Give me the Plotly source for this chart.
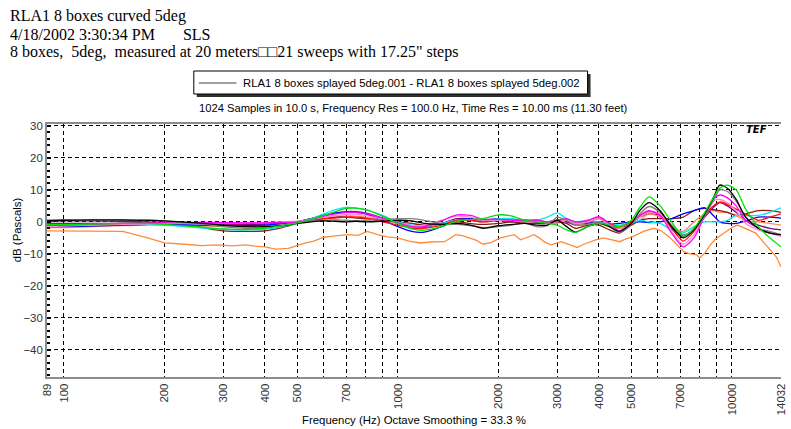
import plotly.graph_objects as go

# ---- measurement data -------------------------------------------------------
freq = [89, 100, 120, 150, 180, 200, 250, 300, 350, 400, 450, 500, 550, 600, 650,
        700, 750, 800, 900, 1000, 1100, 1200, 1350, 1500, 1650, 1800, 2000, 2200,
        2400, 2600, 2800, 3000, 3200, 3400, 3700, 4000, 4300, 4600, 5000, 5300,
        5650, 6100, 6600, 7150, 7700, 8300, 8800, 9200, 9700, 10300, 11000, 12000,
        13000, 14032]

db_purple = [-0.5, -0.5, -0.5, -0.4, -0.3, -0.3, -0.5, -0.7, -0.8, -0.7, -0.5, 0.0, 1.0, 2.0, 2.8,
             3.2, 3.2, 2.8, 1.2, -0.5, -1.5, -1.8, -0.5, 1.0, 1.0, 0.5, 0.5, 0.0,
             0.0, 0.0, -0.5, 0.0, 0.0, -1.0, -0.5, 0.0, -1.0, -2.0, -0.5, 1.5,
             2.5, 2.0, -1.5, -4.5, -2.5, 1.5, 4.5, 6.0, 5.0, 3.0, 0.5, -1.0, -2.0, -2.5]
db_salmon = [-1.8, -1.8, -1.5, -1.2, -1.0, -1.0, -1.2, -1.5, -1.5, -1.2, -0.8, -0.3, 0.5, 1.0, 1.5,
             1.8, 1.8, 1.5, 0.5, -0.5, -1.5, -1.5, -0.5, 0.5, 0.5, 0.0, 0.5, 0.3,
             0.0, 0.0, -0.5, -0.5, 0.5, -0.5, -1.0, -0.5, -1.5, -2.0, -1.0, 0.5,
             2.5, 1.5, -1.5, -3.0, 0.0, 2.5, 3.5, 3.0, 3.0, 2.0, 0.5, 0.0, -0.5, -1.0]
db_brown = [0.2, 0.3, 0.3, 0.2, 0.0, -0.5, -1.5, -2.8, -3.0, -2.8, -1.8, -0.5, 0.5, 1.0, 1.5,
            1.5, 1.2, 1.0, 0.5, 0.0, -0.5, -1.0, -0.5, 0.0, -0.5, -0.8, -0.5, 0.0,
            -0.5, -0.5, -0.5, 0.0, -0.5, -2.0, -1.0, -1.0, -2.5, -3.5, -1.0, 0.5,
            1.0, 1.0, 1.0, 1.5, 3.5, 4.2, 3.8, 3.5, 3.0, 2.0, 2.5, 3.5, 3.5, 3.0]
db_blue = [-1.5, -1.5, -1.3, -1.0, -0.8, -0.8, -1.0, -1.2, -1.2, -1.0, -0.5, 0.0, 1.0, 2.0, 2.8,
           3.0, 3.0, 2.5, 0.5, -1.5, -3.0, -3.2, -1.5, 0.5, 1.0, 0.5, 1.0, 0.5,
           0.5, 0.0, 0.0, 0.5, 0.5, 0.0, 0.0, 0.0, -0.5, -0.5, 0.0, 0.0,
           -0.2, 0.0, 1.0, 2.5, 3.5, 4.4, 2.0, 0.0, -0.5, -0.5, 0.2, 1.5, 1.5, 1.2]
db_cyan = [-1.0, -1.0, -0.8, -0.7, -0.8, -1.0, -1.8, -2.3, -2.5, -2.3, -1.5, -0.5, 1.0, 2.5, 3.8,
           4.5, 4.3, 3.8, 2.0, 0.0, -1.0, -1.5, -0.5, 0.5, 0.5, 0.0, 1.0, 1.0,
           0.5, 0.5, 1.5, 2.8, 1.0, 0.0, 0.5, 0.0, -0.5, -1.0, -0.5, 0.5,
           0.0, -0.5, -2.5, -3.4, -1.5, 0.0, 0.0, 0.0, 0.5, 2.0, 2.0, 2.0, 3.0, 4.4]
db_red = [-1.0, -1.0, -0.8, -0.6, -0.5, -0.3, -0.5, -0.5, -0.5, -0.3, -0.2, 0.0, 0.5, 1.0, 1.2,
          1.5, 1.5, 1.2, 0.0, -1.0, -2.0, -2.0, -1.0, 0.5, 0.5, 0.0, 0.5, 0.5,
          0.5, 0.5, 0.0, 0.5, 0.5, -0.5, 0.0, 1.0, -0.5, -1.5, 0.0, 2.0,
          3.2, 2.5, -2.0, -6.0, -3.0, 2.0, 5.0, 6.2, 5.5, 4.0, 2.5, 0.5, 1.5, 2.5]
db_pink = [-1.5, -1.3, -1.0, -0.8, -0.6, -0.5, -0.5, -0.3, -0.3, -0.2, 0.0, 0.2, 0.8, 1.5, 2.0,
           2.3, 2.4, 2.0, 0.8, -0.5, -1.2, -1.0, 0.5, 1.8, 1.5, 0.5, 0.5, 0.5,
           0.0, 0.2, 0.0, 0.0, 0.5, -0.5, 0.0, 1.0, -1.0, -3.0, -0.5, 1.5,
           3.0, 2.5, -3.0, -7.0, -4.0, 2.0, 6.5, 7.0, 6.0, 3.5, -0.5, -2.5, -3.5, -4.5]
db_magenta = [-1.0, -1.0, -0.8, -0.5, -0.4, -0.3, -0.2, -0.2, -0.3, -0.3, -0.2, 0.0, 0.8, 1.8, 2.5,
              3.0, 3.0, 2.6, 1.2, -0.3, -1.5, -1.5, 0.3, 2.2, 2.0, 0.8, 0.8, 0.5,
              0.3, 0.5, 0.0, 0.3, 1.0, 0.0, 0.5, 1.6, -0.5, -2.8, -0.5, 2.0,
              3.5, 2.0, -3.5, -7.8, -5.0, 2.0, 7.0, 8.4, 7.5, 5.0, 0.5, -2.0, -3.5, -4.0]
db_gray = [0.6, 0.6, 0.5, 0.5, 0.4, 0.2, -0.5, -1.5, -2.0, -1.8, -1.0, -0.3, 0.3, 0.5, 0.6,
           0.5, 0.4, 0.5, 0.7, 1.0, 1.0, 0.5, -0.5, -0.8, -1.2, -1.8, -1.5, -1.0,
           -0.3, -1.5, -1.2, 1.5, 0.5, -1.0, -0.8, 0.0, -1.5, -3.3, -0.8, 2.5,
           4.8, 3.0, -1.0, -4.0, -2.5, 2.0, 6.5, 10.0, 9.5, 6.5, 1.5, -2.0, -3.0, -4.0]
db_black = [0.3, 0.5, 0.6, 0.6, 0.5, 0.3, -0.3, -1.0, -1.5, -1.5, -1.2, -0.5, 0.0, 0.3, 0.2,
            0.0, 0.2, 0.0, 0.2, 0.5, 0.3, -0.5, -0.8, -0.5, -1.0, -2.0, -1.2, -0.8,
            -0.5, -1.0, -1.0, 0.5, -1.5, -3.2, -1.5, -0.5, -1.5, -3.0, -0.5, 3.5,
            6.0, 3.5, -1.5, -5.0, -2.5, 2.5, 7.5, 11.5, 10.5, 7.0, 1.5, -2.0, -3.5, -4.0]
db_green = [-0.8, -0.8, -0.7, -0.5, -0.5, -0.8, -1.5, -2.2, -2.4, -2.0, -1.2, -0.3, 0.8, 2.0, 3.2,
            4.2, 4.3, 3.8, 1.8, -0.5, -2.2, -2.6, -1.5, 0.2, 0.8, 1.0, 2.2, 1.8,
            0.5, 0.0, -0.5, -1.0, -2.5, -3.3, -1.5, -0.5, -1.0, -1.5, 0.5, 4.5,
            7.8, 5.0, 0.0, -4.5, -2.0, 3.0, 7.5, 10.5, 11.5, 10.0, 4.0, -1.5, -5.0, -7.8]

# the low outlier curve is stored on its own, finer frequency grid
freq_orange = [89, 100, 120, 150, 175, 200, 230, 260, 285, 320, 350, 373, 400, 430, 470,
               520, 560, 600, 650, 710, 760, 810, 870, 930, 1000, 1080, 1170, 1250,
               1380, 1490, 1560, 1640, 1720, 1800, 1900, 2030, 2130, 2230, 2330, 2440,
               2560, 2650, 2740, 2870, 3080, 3250, 3440, 3600, 3760, 3950, 4130, 4380,
               4620, 4800, 4940, 5200, 5440, 5830, 6150, 6540, 6850, 7190, 7500, 7860,
               8000, 8310, 8620, 8910, 9500, 10000, 10400, 11200, 11800, 12400, 13000,
               13600, 14032]
db_orange = [-2.8, -2.8, -2.9, -3.0, -4.8, -6.6, -7.0, -7.4, -7.2, -7.5, -7.2, -7.6, -7.8, -8.5, -8.3,
             -6.8, -6.0, -4.8, -4.4, -4.0, -4.2, -3.0, -4.0, -4.7, -5.0, -6.0, -6.6, -6.3,
             -6.2, -4.0, -4.3, -5.0, -5.8, -7.0, -6.5, -5.0, -4.4, -4.0, -5.6, -4.8,
             -4.0, -5.0, -6.2, -7.2, -6.2, -7.0, -8.0, -7.0, -6.2, -5.5, -5.0, -5.6,
             -6.2, -5.4, -5.0, -4.0, -3.0, -2.0, -2.8, -5.0, -7.0, -9.4, -10.0, -10.3,
             -11.3, -9.7, -7.2, -5.5, -3.4, -1.8, -1.0, -2.5, -3.5, -6.2, -8.5,
             -11.0, -14.0]

# frequency grid lines and which of them carry a label
grid_freqs = [89, 100, 200, 300, 400, 500, 600, 700, 800, 900, 1000, 2000, 3000, 4000,
              5000, 6000, 7000, 8000, 9000, 10000, 14032]
labelled = [89, 100, 200, 300, 400, 500, 700, 1000, 2000, 3000, 4000, 5000, 7000, 10000, 14032]
db_ticks = [-40, -30, -20, -10, 0, 10, 20, 30]

legend_name = "RLA1 8 boxes splayed 5deg.001 - RLA1 8 boxes splayed 5deg.002"

# ---- page geometry (pixels) -------------------------------------------------
W, H = 791, 429
L, R, T, B = 47, 4, 124, 52
PW, PH = W - L - R, H - T - B


def px(x):
    return (x - L) / PW


def py(y):
    return (H - B - y) / PH


fig = go.Figure()

series = [
    (db_purple, "#800080"),
    (db_salmon, "#ff8a5c"),
    (db_brown, "#8b1a1a"),
    (db_blue, "#0000ff"),
    (db_cyan, "#00e8f0"),
    (db_red, "#ff1010"),
    (db_pink, "#ff88c8"),
    (db_magenta, "#ff00ff"),
    (db_gray, "#808080"),
    (db_black, "#000000"),
    (db_green, "#00e000"),
]
for vals, col in series:
    fig.add_trace(go.Scatter(
        x=freq, y=vals, mode="lines",
        line=dict(color=col, width=1.3, shape="spline", smoothing=0.7),
        showlegend=False, hoverinfo="skip",
    ))

fig.add_trace(go.Scatter(
    x=freq_orange, y=db_orange, mode="lines",
    line=dict(color="#ff8c3a", width=1.3),
    showlegend=False, hoverinfo="skip",
))

fig.update_xaxes(
    type="log", range=[1.94939, 4.14720],
    tickvals=grid_freqs,
    ticktext=[str(f) if f in labelled else "" for f in grid_freqs],
    tickangle=-90, ticks="", ticklabeloverflow="allow",
    tickfont=dict(family="Liberation Sans", size=11.4, color="#333333"),
    showgrid=True, gridcolor="#000000", gridwidth=1, griddash="4px,3px",
    showline=True, linecolor="#8c8c8c", linewidth=2, mirror=True,
    zeroline=False,
)
fig.update_yaxes(
    range=[-48.5, 30.6],
    tickvals=db_ticks,
    ticks="inside", ticklen=4, tickwidth=2, tickcolor="#000000",
    tickfont=dict(family="Liberation Sans", size=11.4, color="#333333"),
    showgrid=True, gridcolor="#000000", gridwidth=1, griddash="4px,3px",
    showline=True, linecolor="#8c8c8c", linewidth=2,
    zeroline=False,
    minor=dict(dtick=2, ticks="inside", ticklen=3, tickwidth=2,
               tickcolor="#000000", showgrid=False),
)

annotations = [
    dict(text="RLA1 8 boxes curved 5deg", x=px(8), y=py(15.5)),
    dict(text="4/18/2002 3:30:34 PM\u00a0\u00a0\u00a0\u00a0\u00a0\u00a0\u00a0SLS",
         x=px(8), y=py(34)),
    dict(text="8 boxes,\u00a0\u00a05deg,\u00a0\u00a0measured at 20 meters\u25a1\u25a121 sweeps with 17.25\" steps",
         x=px(8), y=py(52)),
]
for a in annotations:
    a.update(xref="paper", yref="paper", xanchor="left", yanchor="middle",
             showarrow=False,
             font=dict(family="Liberation Serif", size=16, color="#000000"))

annotations += [
    dict(text=legend_name,
         x=px(243), y=py(83), xanchor="left", yanchor="middle",
         font=dict(family="Liberation Sans", size=11.3, color="#000000")),
    dict(text="1024 Samples in 10.0 s, Frequency Res = 100.0 Hz, Time Res = 10.00 ms (11.30 feet)",
         x=px(416), y=py(108), xanchor="center", yanchor="middle",
         font=dict(family="Liberation Sans", size=11.2, color="#000000")),
    dict(text="Frequency (Hz) Octave Smoothing = 33.3 %",
         x=px(417), y=py(420), xanchor="center", yanchor="middle",
         font=dict(family="Liberation Sans", size=11.4, color="#000000")),
    dict(text="dB (Pascals)", textangle=-90,
         x=px(17), y=py(230), xanchor="center", yanchor="middle",
         font=dict(family="Liberation Sans", size=11.4, color="#000000")),
    dict(text="<b><i>TEF</i></b>",
         x=px(762), y=py(129), xanchor="center", yanchor="middle",
         font=dict(family="DejaVu Sans", size=10, color="#000000")),
]
for a in annotations[3:]:
    a.update(xref="paper", yref="paper", showarrow=False)

# legend box: drop shadow, framed white box and a gray line sample
shapes = [
    dict(type="rect", xref="paper", yref="paper",
         x0=px(198), x1=px(595), y0=py(97), y1=py(74),
         fillcolor="#303030", line=dict(width=0)),
    dict(type="rect", xref="paper", yref="paper",
         x0=px(195), x1=px(592), y0=py(94), y1=py(71),
         fillcolor="white", line=dict(color="#000000", width=1)),
    dict(type="line", xref="paper", yref="paper",
         x0=px(200), x1=px(238), y0=py(83), y1=py(83),
         line=dict(color="#808080", width=1.5)),
]

fig.update_layout(
    width=W, height=H,
    margin=dict(l=L, r=R, t=T, b=B),
    paper_bgcolor="white", plot_bgcolor="white",
    annotations=annotations, shapes=shapes,
    showlegend=False,
)

fig.write_html("out.html")
